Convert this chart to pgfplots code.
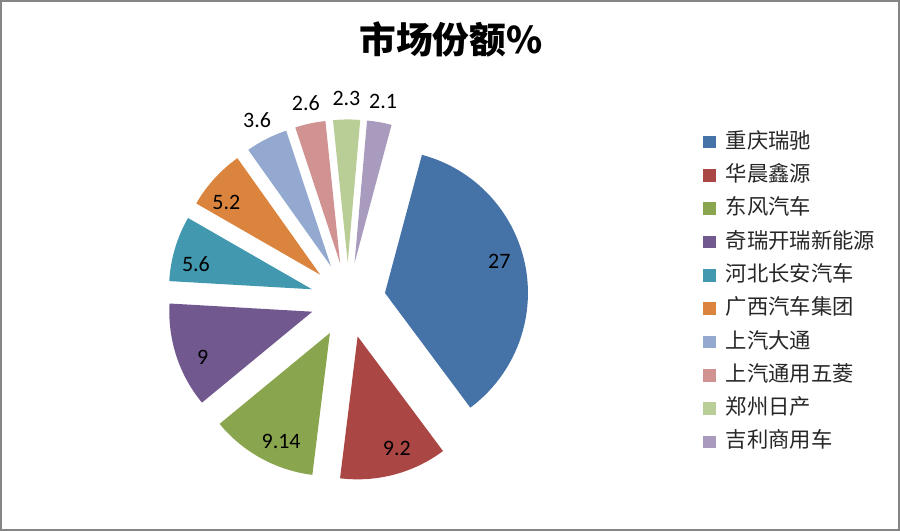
\documentclass[border=0pt]{standalone}
\usepackage{fontspec}
\setmainfont{Carlito}
\newfontfamily\cjk{Noto Sans CJK SC}
\usepackage{pgfplots}
\usepackage{pgfplotstable}
\pgfplotsset{compat=1.18}

\definecolor{c0}{HTML}{4572A7}
\definecolor{c1}{HTML}{AA4643}
\definecolor{c2}{HTML}{89A54E}
\definecolor{c3}{HTML}{71588F}
\definecolor{c4}{HTML}{4198AF}
\definecolor{c5}{HTML}{DB843D}
\definecolor{c6}{HTML}{93A9CF}
\definecolor{c7}{HTML}{D19392}
\definecolor{c8}{HTML}{B9CD96}
\definecolor{c9}{HTML}{A99BBD}
\definecolor{frame}{HTML}{868686}

% market share per maker
\pgfplotstableread[col sep=comma]{
name,value
重庆瑞驰,27
华晨鑫源,9.2
东风汽车,9.14
奇瑞开瑞新能源,9
河北长安汽车,5.6
广西汽车集团,5.2
上汽大通,3.6
上汽通用五菱,2.6
郑州日产,2.3
吉利商用车,2.1
}\sharetbl

% pie geometry in axis units (1 unit = 0.75pt)
\def\cx{348}\def\cy{231}\def\explode{37.6}\def\rad{143}
\def\firstangle{75}

\begin{document}
\begin{tikzpicture}
% total and slice angles
\xdef\total{0}
\foreach \i in {0,...,9}{
  \pgfplotstablegetelem{\i}{value}\of\sharetbl
  \pgfmathsetmacro\t{\total+\pgfplotsretval}
  \xdef\total{\t}
}
\xdef\cum{0}
\foreach \i in {0,...,9}{
  \pgfplotstablegetelem{\i}{value}\of\sharetbl
  \let\v\pgfplotsretval
  \pgfmathsetmacro\fa{\cum/\total}
  \pgfmathsetmacro\fb{(\cum+\v)/\total}
  \pgfmathsetmacro\s{\firstangle-360*\fa}
  \pgfmathsetmacro\e{\firstangle-360*\fb}
  \pgfmathsetmacro\m{(\s+\e)/2}
  \pgfmathsetmacro\ax{\cx+\explode*cos(\m)}
  \pgfmathsetmacro\ay{\cy+\explode*sin(\m)}
  % small slices get their label outside, big ones inside
  \pgfmathsetmacro\ld{\fb-\fa<0.06 ? 1.147*\rad : 0.83*\rad}
  \pgfmathsetmacro\la{\fb-\fa<0.06 ? \m : \m+4.5}
  \pgfmathsetmacro\lx{\ax+\ld*cos(\la)}
  \pgfmathsetmacro\ly{\ay+\ld*sin(\la)}
  \expandafter\xdef\csname sS\i\endcsname{\s}
  \expandafter\xdef\csname sE\i\endcsname{\e}
  \expandafter\xdef\csname sX\i\endcsname{\ax}
  \expandafter\xdef\csname sY\i\endcsname{\ay}
  \expandafter\xdef\csname sLX\i\endcsname{\lx}
  \expandafter\xdef\csname sLY\i\endcsname{\ly}
  \expandafter\xdef\csname sV\i\endcsname{\v}
  \pgfmathsetmacro\c{\cum+\v}
  \xdef\cum{\c}
}
\begin{axis}[
  x=0.75pt, y=0.75pt,
  xmin=0, xmax=900, ymin=0, ymax=531,
  hide axis, clip=false,
  legend image code/.code={\fill[#1, draw=none] (0pt,-4.7pt) rectangle (9.5pt,4.7pt);},
  legend cell align=left,
  legend style={
    at={(axis cs:703,398.6)}, anchor=north west,
    draw=none, fill=none, inner sep=0pt,
    row sep=11pt,
    font=\cjk\fontsize{16}{16}\selectfont,
    text=black!85,
    nodes={inner sep=0pt, text height=11.5pt, text depth=2.5pt},
    /tikz/every odd column/.style={column sep=7.5pt},
  },
]
\draw[frame, line width=1.6pt] (axis cs:1,1) rectangle (axis cs:899,530);
\pgfplotsinvokeforeach{0,...,9}{
  \fill[c#1] (axis cs:\csname sX#1\endcsname,\csname sY#1\endcsname)
    -- ++(\csname sS#1\endcsname:107.25pt)
    arc[start angle=\csname sS#1\endcsname, end angle=\csname sE#1\endcsname, radius=107.25pt]
    -- cycle;
  \node[font=\fontsize{16.5}{16.5}\selectfont, text=black]
    at (axis cs:\csname sLX#1\endcsname,\csname sLY#1\endcsname) {\csname sV#1\endcsname};
  \addlegendimage{fill=c#1}
  \pgfplotstablegetelem{#1}{name}\of\sharetbl
  \addlegendentryexpanded{\pgfplotsretval}
}
\node[font=\cjk\bfseries\fontsize{27.5}{27.5}\selectfont] at (axis cs:451,492) {市场份额\%};
\end{axis}
\end{tikzpicture}
\end{document}
